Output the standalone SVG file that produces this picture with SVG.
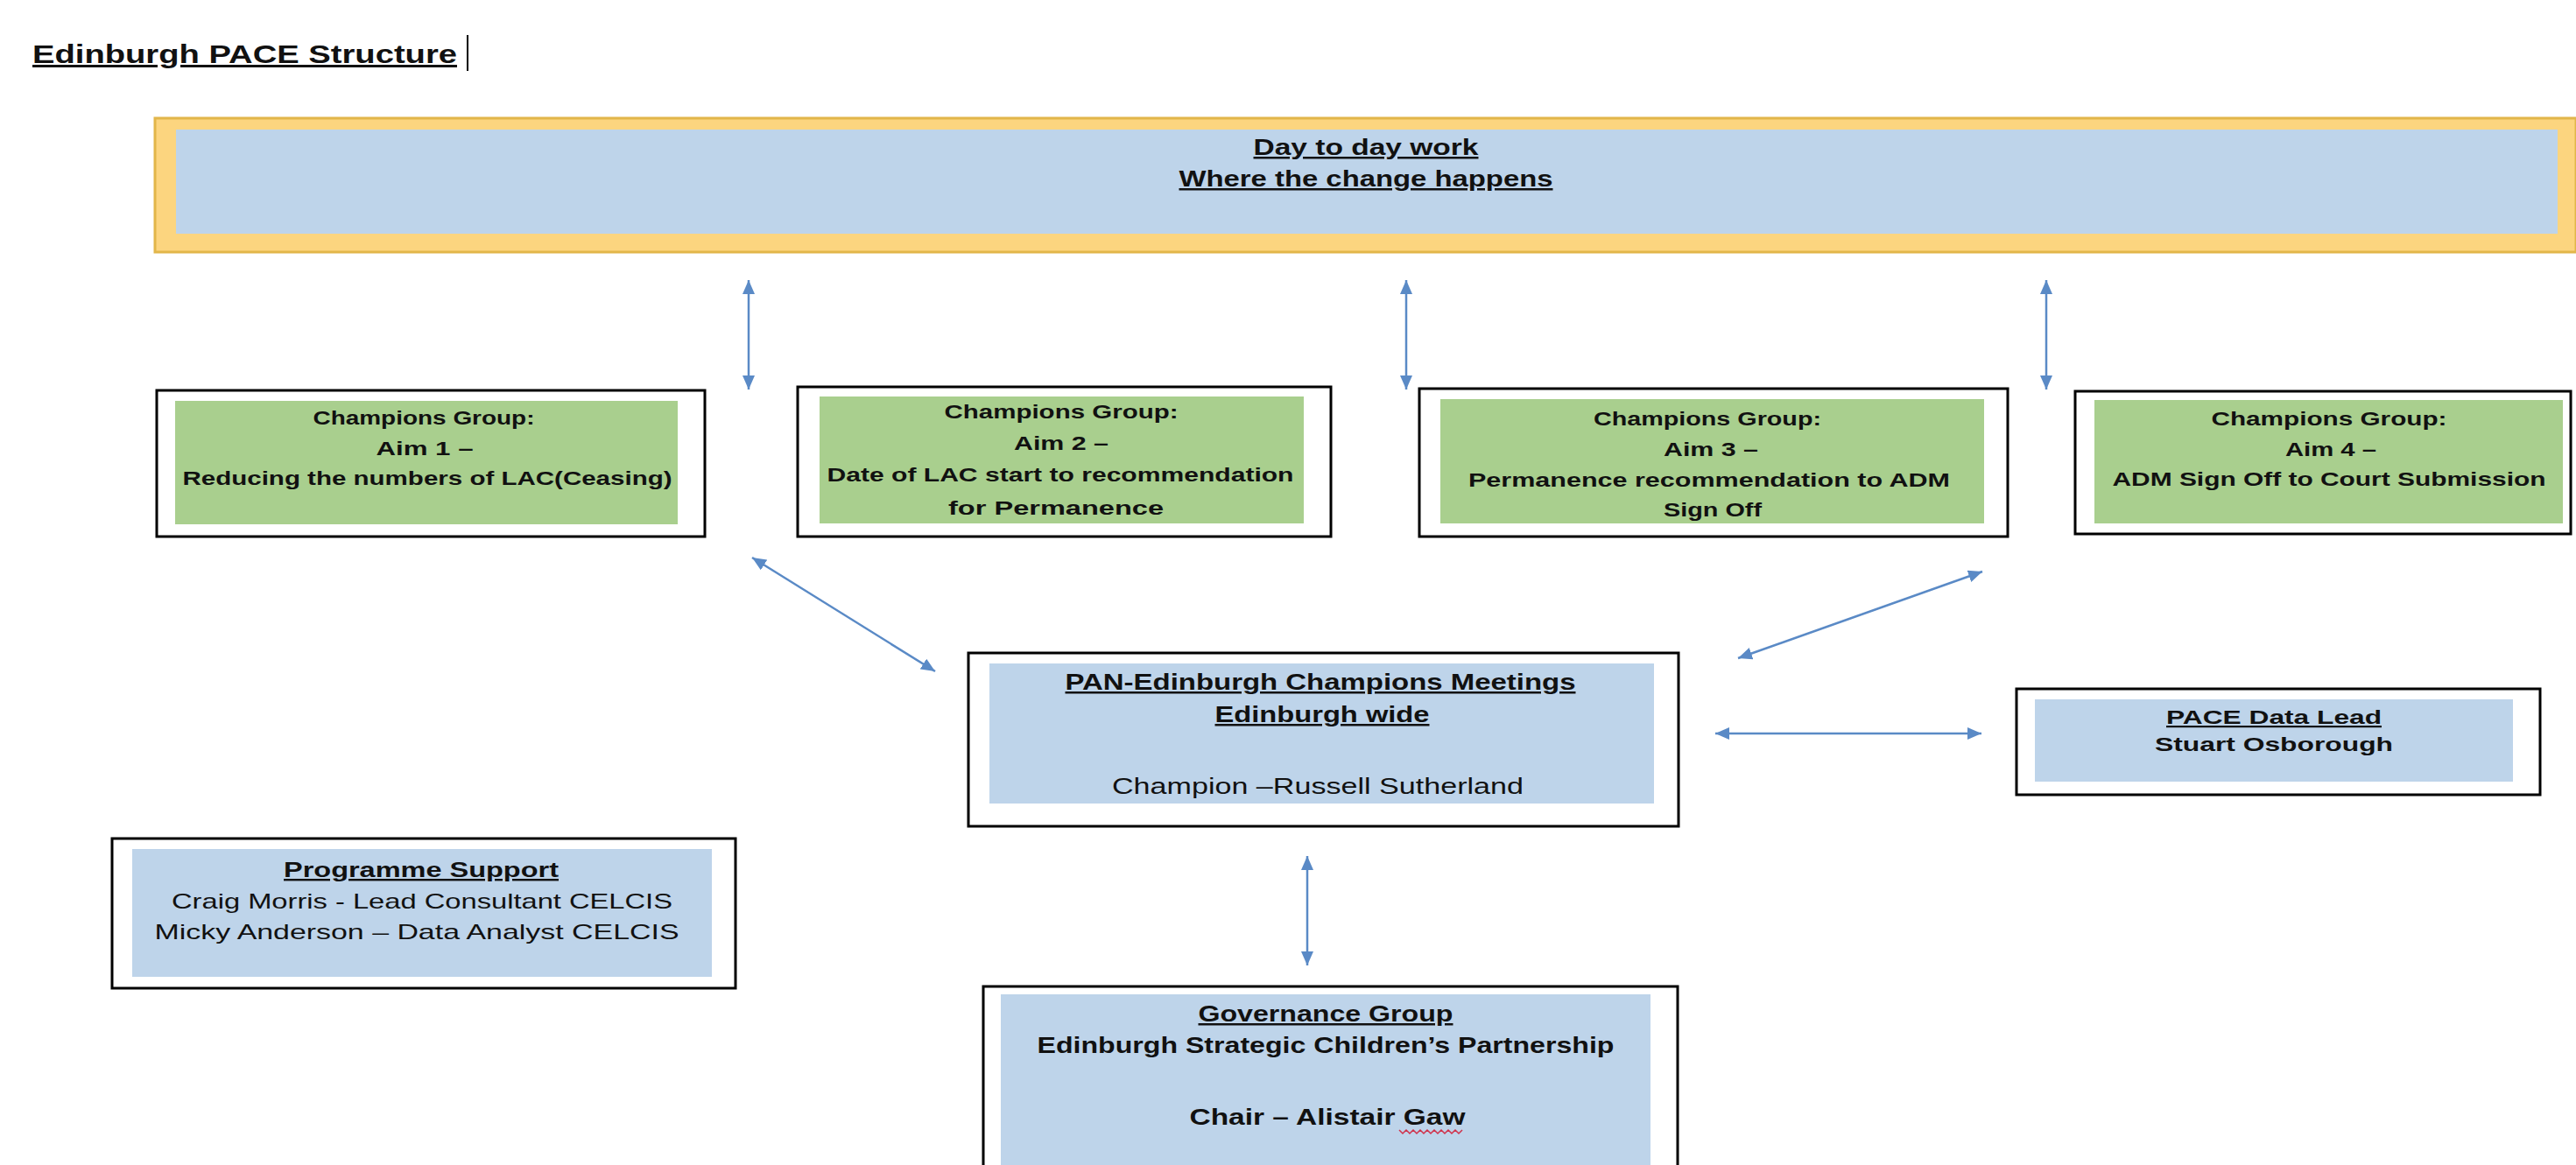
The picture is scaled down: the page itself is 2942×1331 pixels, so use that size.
<svg xmlns="http://www.w3.org/2000/svg" width="2942" height="1331" viewBox="0 0 2942 1331">
<defs>
<style>
.t{font-family:"Liberation Sans",Arial,sans-serif;fill:#111;text-anchor:middle}
.b{font-weight:bold}
.u{text-decoration:underline}
.outer{fill:#fff;stroke:#000;stroke-width:3}
.blue{fill:#bed4ea}
.green{fill:#a9cf8e}
.conn{stroke:#5a8ac6;stroke-width:2.5;fill:none;marker-start:url(#ah);marker-end:url(#ah)}
</style>
<marker id="ah" markerUnits="userSpaceOnUse" markerWidth="16" markerHeight="14" refX="16" refY="7" orient="auto-start-reverse" viewBox="0 0 16 14">
<path d="M0,0 L16,7 L0,14 z" fill="#5a8ac6"/>
</marker>
</defs>
<rect width="2942" height="1331" fill="#fff"/>

<g id="title">
<text class="t b u" x="37" y="72" font-size="30" style="text-anchor:start" textLength="485" lengthAdjust="spacingAndGlyphs">Edinburgh PACE Structure</text>
<line x1="534" y1="40" x2="534" y2="81" stroke="#000" stroke-width="2"/>
</g>

<g id="day-to-day">
<rect x="177" y="135" width="2765" height="153" fill="#fcd57f" stroke="#e2b64a" stroke-width="3"/>
<rect x="201" y="148" width="2720" height="119" class="blue"/>
<text class="t b u" x="1560" y="177" font-size="25" textLength="257" lengthAdjust="spacingAndGlyphs">Day to day work</text>
<text class="t b u" x="1560" y="213" font-size="25" textLength="427" lengthAdjust="spacingAndGlyphs">Where the change happens</text>
</g>

<g id="aim1">
<rect x="179" y="446" width="626" height="167" class="outer"/>
<rect x="200" y="458" width="574" height="141" class="green"/>
<text class="t b" x="484" y="485" font-size="22" textLength="253" lengthAdjust="spacingAndGlyphs">Champions Group:</text>
<text class="t b" x="485" y="520" font-size="22" textLength="111" lengthAdjust="spacingAndGlyphs">Aim 1 –</text>
<text class="t b" x="488" y="554" font-size="22" textLength="559" lengthAdjust="spacingAndGlyphs">Reducing the numbers of LAC(Ceasing)</text>
</g>

<g id="aim2">
<rect x="911" y="442" width="609" height="171" class="outer"/>
<rect x="936" y="453" width="553" height="145" class="green"/>
<text class="t b" x="1212" y="478" font-size="22" textLength="267" lengthAdjust="spacingAndGlyphs">Champions Group:</text>
<text class="t b" x="1212" y="514" font-size="22" textLength="108" lengthAdjust="spacingAndGlyphs">Aim 2 –</text>
<text class="t b" x="1211" y="550" font-size="22" textLength="533" lengthAdjust="spacingAndGlyphs">Date of LAC start to recommendation</text>
<text class="t b" x="1206" y="588" font-size="22" textLength="246" lengthAdjust="spacingAndGlyphs">for Permanence</text>
</g>

<g id="aim3">
<rect x="1621" y="444" width="672" height="169" class="outer"/>
<rect x="1645" y="456" width="621" height="142" class="green"/>
<text class="t b" x="1950" y="486" font-size="22" textLength="260" lengthAdjust="spacingAndGlyphs">Champions Group:</text>
<text class="t b" x="1954" y="521" font-size="22" textLength="108" lengthAdjust="spacingAndGlyphs">Aim 3 –</text>
<text class="t b" x="1952" y="556" font-size="22" textLength="550" lengthAdjust="spacingAndGlyphs">Permanence recommendation to ADM</text>
<text class="t b" x="1956" y="590" font-size="22" textLength="112" lengthAdjust="spacingAndGlyphs">Sign Off</text>
</g>

<g id="aim4">
<rect x="2370" y="447" width="566" height="163" class="outer"/>
<rect x="2392" y="457" width="535" height="141" class="green"/>
<text class="t b" x="2660" y="486" font-size="22" textLength="269" lengthAdjust="spacingAndGlyphs">Champions Group:</text>
<text class="t b" x="2662" y="521" font-size="22" textLength="104" lengthAdjust="spacingAndGlyphs">Aim 4 –</text>
<text class="t b" x="2660" y="555" font-size="22" textLength="495" lengthAdjust="spacingAndGlyphs">ADM Sign Off to Court Submission</text>
</g>

<g id="pan-edinburgh">
<rect x="1106" y="746" width="811" height="198" class="outer"/>
<rect x="1130" y="758" width="759" height="160" class="blue"/>
<text class="t b u" x="1508" y="788" font-size="25" textLength="583" lengthAdjust="spacingAndGlyphs">PAN-Edinburgh  Champions  Meetings</text>
<text class="t b u" x="1510" y="825" font-size="25" textLength="245" lengthAdjust="spacingAndGlyphs">Edinburgh wide</text>
<text class="t" x="1505" y="907" font-size="25" textLength="470" lengthAdjust="spacingAndGlyphs">Champion –Russell Sutherland</text>
</g>

<g id="data-lead">
<rect x="2303" y="787" width="598" height="121" class="outer"/>
<rect x="2324" y="799" width="546" height="94" class="blue"/>
<text class="t b u" x="2597" y="827" font-size="22" textLength="246" lengthAdjust="spacingAndGlyphs">PACE Data Lead</text>
<text class="t b" x="2597" y="858" font-size="22" textLength="272" lengthAdjust="spacingAndGlyphs">Stuart Osborough</text>
</g>

<g id="programme-support">
<rect x="128" y="958" width="712" height="171" class="outer"/>
<rect x="151" y="970" width="662" height="146" class="blue"/>
<text class="t b u" x="481" y="1002" font-size="24" textLength="314" lengthAdjust="spacingAndGlyphs">Programme Support</text>
<text class="t" x="482" y="1038" font-size="24" textLength="572" lengthAdjust="spacingAndGlyphs">Craig Morris - Lead Consultant  CELCIS</text>
<text class="t" x="476" y="1073" font-size="24" textLength="599" lengthAdjust="spacingAndGlyphs">Micky Anderson – Data Analyst CELCIS</text>
</g>

<g id="governance">
<rect x="1123" y="1127" width="793" height="220" class="outer"/>
<rect x="1143" y="1136" width="742" height="210" class="blue"/>
<text class="t b u" x="1514" y="1167" font-size="25" textLength="291" lengthAdjust="spacingAndGlyphs">Governance Group</text>
<text class="t b" x="1514" y="1203" font-size="25" textLength="659" lengthAdjust="spacingAndGlyphs">Edinburgh Strategic Children’s  Partnership</text>
<text class="t b" x="1516" y="1285" font-size="25" textLength="315" lengthAdjust="spacingAndGlyphs">Chair – Alistair Gaw</text>
<path d="M1598,1291 l4,4 l4,-4 l4,4 l4,-4 l4,4 l4,-4 l4,4 l4,-4 l4,4 l4,-4 l4,4 l4,-4 l4,4 l4,-4 l4,4 l4,-4 l4,4 l4,-4" fill="none" stroke="#d0314a" stroke-width="1.5"/>
</g>

<g id="connectors">
<line class="conn" x1="855" y1="320" x2="855" y2="445"/>
<line class="conn" x1="1606" y1="320" x2="1606" y2="445"/>
<line class="conn" x1="2337" y1="320" x2="2337" y2="445"/>
<line class="conn" x1="859" y1="637" x2="1068" y2="767"/>
<line class="conn" x1="2264" y1="653" x2="1985" y2="752"/>
<line class="conn" x1="1959" y1="838" x2="2263" y2="838"/>
<line class="conn" x1="1493" y1="978" x2="1493" y2="1103"/>
</g>
</svg>
